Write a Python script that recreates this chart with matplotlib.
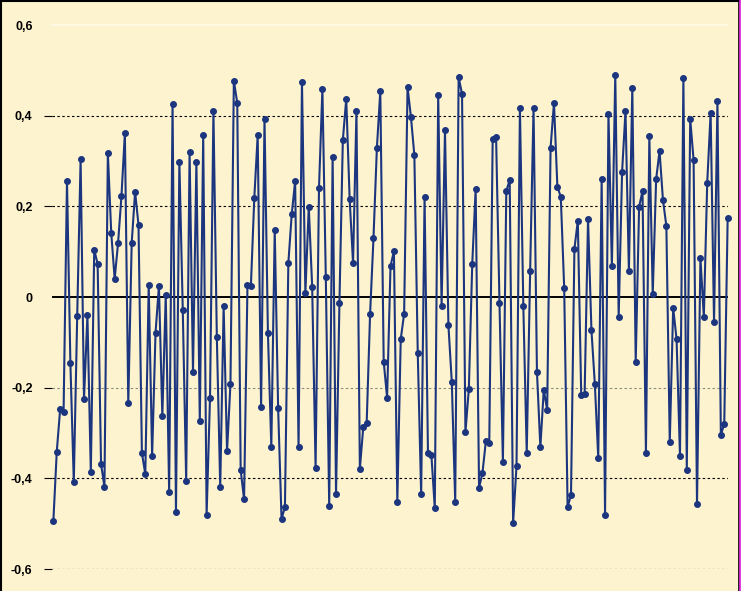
import matplotlib.pyplot as plt
from matplotlib.lines import Line2D

# values, left to right
values = [
    -0.494, -0.341, -0.247, -0.254, 0.256, -0.146, -0.408, -0.042, 0.304, -0.225,
    -0.040, -0.387, 0.104, 0.073, -0.368, -0.419, 0.317, 0.141, 0.040, 0.119,
    0.223, 0.362, -0.234, 0.119, 0.232, 0.159, -0.344, -0.391, 0.026, -0.351,
    -0.079, 0.024, -0.263, 0.005, -0.430, 0.426, -0.475, 0.298, -0.029, -0.406,
    0.320, -0.165, 0.298, -0.273, 0.357, -0.480, -0.222, 0.410, -0.088, -0.419,
    -0.020, -0.340, -0.192, 0.477, 0.428, -0.382, -0.446, 0.026, 0.024, 0.218,
    0.357, -0.243, 0.393, -0.079, -0.331, 0.148, -0.245, -0.490, -0.463, 0.075,
    0.183, 0.256, -0.331, 0.474, 0.009, 0.199, 0.022, -0.377, 0.240, 0.459,
    0.044, -0.461, 0.309, -0.435, -0.013, 0.346, 0.437, 0.216, 0.075, 0.410,
    -0.379, -0.287, -0.278, -0.038, 0.130, 0.329, 0.454, -0.143, -0.222, 0.068,
    0.101, -0.452, -0.093, -0.037, 0.463, 0.397, 0.313, -0.124, -0.435, 0.221,
    -0.345, -0.348, -0.465, 0.446, -0.020, 0.368, -0.062, -0.188, -0.452, 0.485,
    0.448, -0.298, -0.203, 0.073, 0.238, -0.421, -0.388, -0.318, -0.322, 0.349,
    0.353, -0.013, -0.364, 0.234, 0.258, -0.499, -0.373, 0.417, -0.020, -0.344,
    0.057, 0.417, -0.165, -0.331, -0.205, -0.249, 0.329, 0.428, 0.243, 0.221,
    0.020, -0.463, -0.437, 0.106, 0.168, -0.216, -0.214, 0.172, -0.073, -0.192,
    -0.355, 0.260, -0.481, 0.404, 0.068, 0.490, -0.044, 0.276, 0.410, 0.057,
    0.461, -0.143, 0.199, 0.234, -0.344, 0.355, 0.007, 0.260, 0.322, 0.214,
    0.157, -0.320, -0.024, -0.093, -0.351, 0.483, -0.382, 0.393, 0.302, -0.457,
    0.086, -0.044, 0.252, 0.406, -0.055, 0.432, -0.304, -0.280, 0.174,
]
y_ticks = [-0.6, -0.4, -0.2, 0, 0.2, 0.4, 0.6]
y_labels = ["-0,6", "-0,4", "-0,2", "0", "0,2", "0,4", "0,6"]

bg = "#fdf3cf"
blue = "#1c357f"

W, H = 741, 591
fig = plt.figure(figsize=(W / 100, H / 100), dpi=100, facecolor=bg)
ax = fig.add_axes([52 / W, (H - 569) / H, (728 - 52) / W, (569 - 25) / H])
ax.set_facecolor(bg)

# grid lines
for yv in [0.4, 0.2, -0.4, -0.6]:
    ax.axhline(yv, color="black", lw=0.8, ls=(0, (2.2, 2.2)), zorder=1)
ax.axhline(-0.2, color="#8a8a80", lw=0.8, ls=(0, (2.2, 2.2)), zorder=1)
ax.axhline(0.6, color="#fffbe8", lw=1.2, zorder=1, clip_on=False)
ax.axhline(0, color="black", lw=1.4, zorder=2)

xs = list(range(len(values)))
ax.plot(xs, values, color=blue, lw=1.5, marker="o", markersize=4,
        markerfacecolor=blue, markeredgecolor=blue, zorder=3, clip_on=False)

ax.set_xlim(-0.4, len(values) - 0.9)
ax.set_ylim(-0.6, 0.6)
ax.set_xticks([])
ax.set_yticks(y_ticks)
ax.set_yticklabels(y_labels, fontfamily="Liberation Sans", fontsize=9,
                   fontweight="bold")
ax.tick_params(axis="y", length=6, width=0.8, pad=8, direction="out")
# no visible tick at the top and at zero
ticks = ax.yaxis.get_major_ticks()
for i in (3, 6):
    ticks[i].tick1line.set_visible(False)
for s in ax.spines.values():
    s.set_visible(False)

# outer border like the source image
fig.add_artist(Line2D([0.5 / W, 0.5 / W], [0, 1], color="black", lw=1.5))
fig.add_artist(Line2D([0, 739 / W], [1 - 0.5 / H, 1 - 0.5 / H], color="black", lw=1.5))
fig.add_artist(Line2D([738.5 / W, 738.5 / W], [0, 1], color="black", lw=1.2))
fig.add_artist(Line2D([740.3 / W, 740.3 / W], [0, 1], color="#e020e0", lw=1.2))

fig.savefig("out.png", dpi=100, facecolor=bg)
